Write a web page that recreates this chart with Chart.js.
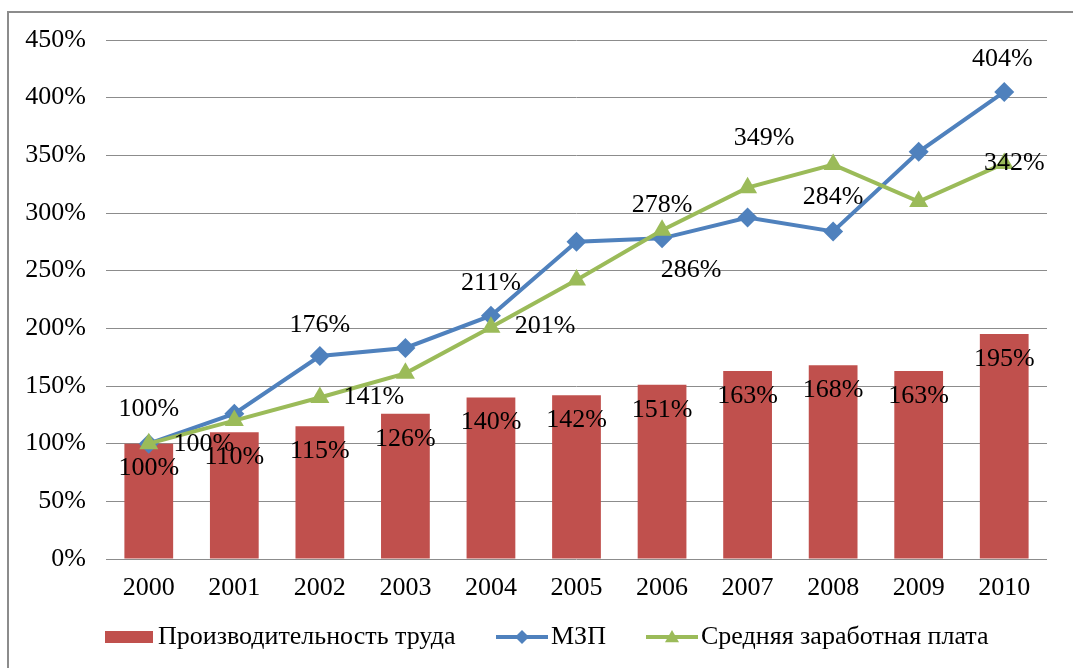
<!DOCTYPE html>
<html>
<head>
<meta charset="utf-8">
<script src="https://cdn.jsdelivr.net/npm/chart.js@4.4.1/dist/chart.umd.min.js"></script>
<style>
    html, body { margin: 0; padding: 0; background: #fff; overflow: hidden; }
    .frame { position: absolute; left: 7px; top: 11px; width: 1100px; height: 700px; border: 2px solid #8c8c8c; }
    #chart { position: absolute; left: 0; top: 0; }
</style>
</head>
<body>
<div class="frame"></div>
<canvas id="chart" width="1073" height="668"></canvas>
<script>
const years = ["2000", "2001", "2002", "2003", "2004", "2005", "2006", "2007", "2008", "2009", "2010"];
const productivity = [100, 110, 115, 126, 140, 142, 151, 163, 168, 163, 195];
const mzp = [100, 126, 176, 183, 211, 275, 278, 296, 284, 353, 405];
const avgWage = [100, 120, 140, 161, 201, 242, 285, 322, 342, 310, 343];

// labels as printed on the source picture (they do not always match the points)
const productivityLabels = ["100%", "110%", "115%", "126%", "140%", "142%", "151%", "163%", "168%", "163%", "195%"];
const mzpLabels = ["100%", "", "176%", "", "211%", "", "278%", "", "284%", "", "404%"];
const avgWageLabels = ["100%", "", "141%", "", "201%", "", "286%", "", "349%", "", "342%"];

const RED = "#C0504D", BLUE = "#4F81BD", GREEN = "#9BBB59";
const FONT = "'Liberation Serif', 'Times New Roman', serif";
const FS = 26;

// label offsets from the point, in px
const barOffset = [0, 25];
const mzpOffsets = [[0, -34], null, [0, -31], null, [0, -32], null, [0, -33], null, [0, -34], null, [-2, -33]];
const avgOffsets = [[55, 1], null, [54, 0], null, [54, -1], null, [29, 40], null, [-69, -26], null, [10, 0]];

const labelPlugin = {
    id: "labels",
    afterDatasetsDraw(chart) {
        const ctx = chart.ctx;
        ctx.save();
        ctx.font = FS + "px " + FONT;
        ctx.fillStyle = "#000";
        ctx.textAlign = "center";
        ctx.textBaseline = "middle";
        const sets = [
            [0, productivityLabels, productivityLabels.map(() => barOffset)],
            [1, mzpLabels, mzpOffsets],
            [2, avgWageLabels, avgOffsets]
        ];
        sets.forEach(([idx, texts, offs]) => {
            const meta = chart.getDatasetMeta(idx);
            meta.data.forEach((el, i) => {
                if (!texts[i] || !offs[i]) return;
                ctx.fillText(texts[i], el.x + offs[i][0], el.y + offs[i][1]);
            });
        });
        ctx.restore();
    }
};

function drawMarker(ctx, kind, x, y, r) {
    ctx.beginPath();
    if (kind === "diamond") {
        ctx.moveTo(x, y - r); ctx.lineTo(x + r, y); ctx.lineTo(x, y + r); ctx.lineTo(x - r, y);
    } else {
        ctx.moveTo(x, y - r); ctx.lineTo(x + r, y + r * 0.75); ctx.lineTo(x - r, y + r * 0.75);
    }
    ctx.closePath();
    ctx.fill();
}

const legendItems = [
    { text: "Производительность труда", color: RED, kind: "bar", x: 105 },
    { text: "МЗП", color: BLUE, kind: "diamond", x: 496 },
    { text: "Средняя заработная плата", color: GREEN, kind: "triangle", x: 646 }
];

const legendPlugin = {
    id: "legendDraw",
    afterDraw(chart) {
        const ctx = chart.ctx;
        const y = 637;
        ctx.save();
        ctx.font = FS + "px " + FONT;
        ctx.textBaseline = "middle";
        legendItems.forEach(item => {
            ctx.fillStyle = item.color;
            if (item.kind === "bar") {
                ctx.fillRect(item.x, y - 6, 48, 12);
            } else {
                ctx.strokeStyle = item.color;
                ctx.lineWidth = 4;
                ctx.beginPath();
                ctx.moveTo(item.x, y);
                ctx.lineTo(item.x + 52, y);
                ctx.stroke();
                drawMarker(ctx, item.kind, item.x + 26, y, 7);
            }
            ctx.fillStyle = "#000";
            ctx.fillText(item.text, item.x + (item.kind === "bar" ? 53 : 55), y);
        });
        ctx.restore();
    }
};

new Chart(document.getElementById("chart"), {
    data: {
        labels: years,
        datasets: [
            {
                type: "bar",
                label: "Производительность труда",
                data: productivity,
                backgroundColor: RED,
                categoryPercentage: 1,
                barPercentage: 0.57,
                order: 3
            },
            {
                type: "line",
                label: "МЗП",
                data: mzp,
                borderColor: BLUE,
                backgroundColor: BLUE,
                borderWidth: 4,
                pointStyle: "rectRot",
                pointRadius: 10,
                pointBorderWidth: 0,
                tension: 0,
                order: 2
            },
            {
                type: "line",
                label: "Средняя заработная плата",
                data: avgWage,
                borderColor: GREEN,
                backgroundColor: GREEN,
                borderWidth: 4,
                pointStyle: "triangle",
                pointRadius: 11,
                pointBorderWidth: 0,
                tension: 0,
                order: 1
            }
        ]
    },
    options: {
        responsive: false,
        animation: false,
        layout: { padding: { left: 0, right: 26, top: 40, bottom: 0 } },
        plugins: {
            legend: { display: false },
            tooltip: { enabled: false }
        },
        scales: {
            x: {
                grid: { display: false, drawTicks: false },
                border: { display: false },
                ticks: { color: "#000", font: { family: FONT, size: FS }, padding: 14 },
                afterFit: s => { s.height = 109; }
            },
            y: {
                min: 0,
                max: 450,
                grid: { color: "#8c8c8c", lineWidth: 1, drawTicks: false },
                border: { display: false },
                ticks: {
                    stepSize: 50,
                    color: "#000",
                    font: { family: FONT, size: FS },
                    padding: 20,
                    callback: v => v + "%"
                },
                afterFit: s => { s.width = 106; }
            }
        }
    },
    plugins: [labelPlugin, legendPlugin]
});
</script>
</body>
</html>
